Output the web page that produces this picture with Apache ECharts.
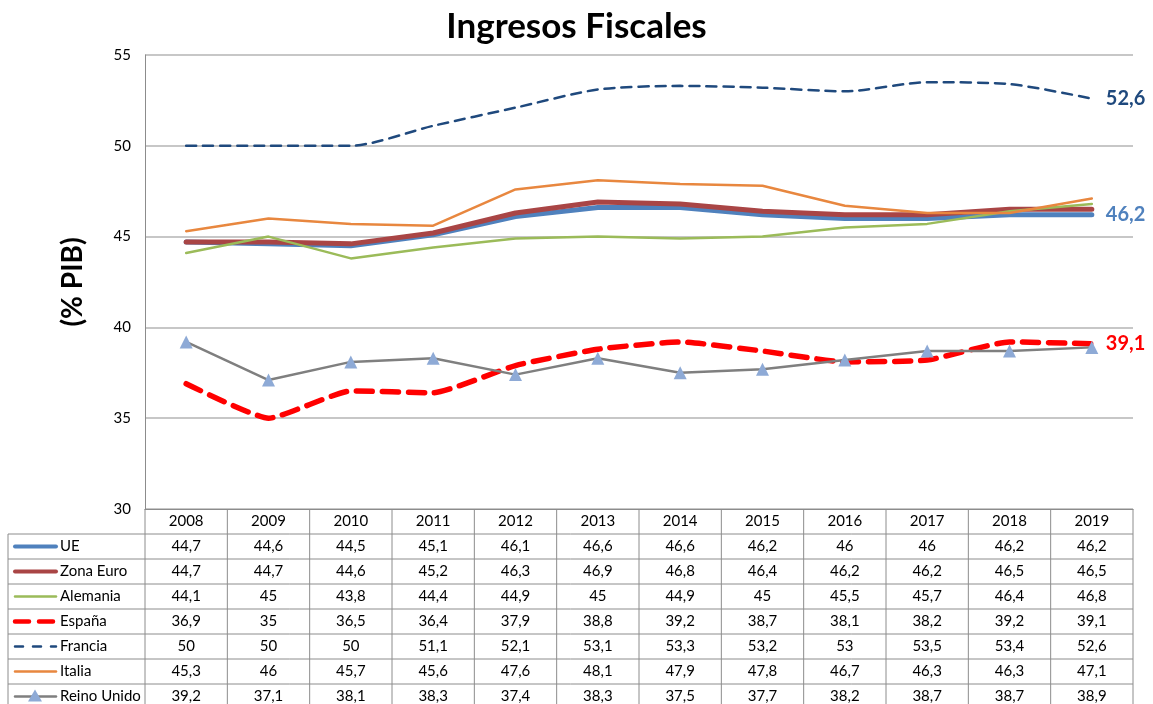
<!DOCTYPE html>
<html>
<head>
<meta charset="utf-8">
<title>Ingresos Fiscales</title>
<script src="https://cdn.jsdelivr.net/npm/echarts@6/dist/echarts.min.js"></script>
<style>
  html, body { margin: 0; padding: 0; background: #fff; }
  #chart { width: 1153px; height: 704px; }
</style>
</head>
<body>
<div id="chart"></div>
<script>
// datos (% PIB)
var years = ['2008', '2009', '2010', '2011', '2012', '2013', '2014', '2015', '2016', '2017', '2018', '2019'];
var ue = [44.7, 44.6, 44.5, 45.1, 46.1, 46.6, 46.6, 46.2, 46, 46, 46.2, 46.2];
var zonaEuro = [44.7, 44.7, 44.6, 45.2, 46.3, 46.9, 46.8, 46.4, 46.2, 46.2, 46.5, 46.5];
var alemania = [44.1, 45, 43.8, 44.4, 44.9, 45, 44.9, 45, 45.5, 45.7, 46.4, 46.8];
var espana = [36.9, 35, 36.5, 36.4, 37.9, 38.8, 39.2, 38.7, 38.1, 38.2, 39.2, 39.1];
var francia = [50, 50, 50, 51.1, 52.1, 53.1, 53.3, 53.2, 53, 53.5, 53.4, 52.6];
var italia = [45.3, 46, 45.7, 45.6, 47.6, 48.1, 47.9, 47.8, 46.7, 46.3, 46.3, 47.1];
var reinoUnido = [39.2, 37.1, 38.1, 38.3, 37.4, 38.3, 37.5, 37.7, 38.2, 38.7, 38.7, 38.9];
var yTicks = [30, 35, 40, 45, 50, 55];

var FONT = 'Lato, "Open Sans", sans-serif';
var gridL = 145, gridR = 1133, gridT = 55, gridB = 509;
var rowH = 25, tableL = 8;
var lineGrey = '#8c8c8c';

function coma(v) { return String(v).replace('.', ','); }

// filas de la tabla + estilo de cada serie
var rows = [
  { name: 'UE', data: ue, color: '#4f81bd', width: 5, type: 'solid' },
  { name: 'Zona Euro', data: zonaEuro, color: '#a94545', width: 5, type: 'solid' },
  { name: 'Alemania', data: alemania, color: '#9bbb59', width: 2.5, type: 'solid' },
  { name: 'España', data: espana, color: '#ff0000', width: 5.5, type: [16, 10], smooth: 0.15 },
  { name: 'Francia', data: francia, color: '#1f497d', width: 2.5, type: [10, 7], smooth: 0.25 },
  { name: 'Italia', data: italia, color: '#e8873f', width: 2.5, type: 'solid' },
  { name: 'Reino Unido', data: reinoUnido, color: '#7f7f7f', width: 2.5, type: 'solid', marker: true }
];

var endLabels = { 'UE': '#4f81bd', 'España': '#ff0000', 'Francia': '#1f497d' };

var chart = echarts.init(document.getElementById('chart'));

var series = rows.map(function (r) {
  var s = {
    name: r.name,
    type: 'line',
    data: r.data,
    smooth: r.smooth || false,
    symbol: r.marker ? 'triangle' : 'none',
    symbolSize: 13,
    showSymbol: !!r.marker,
    itemStyle: { color: r.marker ? '#8eaad6' : r.color },
    lineStyle: { color: r.color, width: r.width, type: r.type, cap: 'round' },
    emphasis: { disabled: true },
    animation: false
  };
  if (endLabels[r.name]) {
    s.endLabel = {
      show: true,
      distance: 14,
      formatter: function (p) { return coma(p.value); },
      color: endLabels[r.name],
      fontFamily: FONT,
      fontWeight: 'bold',
      fontSize: 20
    };
  }
  return s;
});

chart.setOption({
  animation: false,
  title: {
    text: 'Ingresos Fiscales',
    left: 'center',
    top: 4,
    textStyle: { fontFamily: FONT, fontWeight: 'bold', fontSize: 35, color: '#000' }
  },
  grid: { left: gridL, right: 1153 - gridR, top: gridT, bottom: 704 - gridB },
  xAxis: {
    type: 'category',
    data: years,
    boundaryGap: true,
    axisLine: { lineStyle: { color: lineGrey, width: 1 } },
    axisTick: { show: false },
    axisLabel: { color: '#000', fontFamily: FONT, fontSize: 15, margin: 5 }
  },
  yAxis: {
    type: 'value',
    min: yTicks[0],
    max: yTicks[yTicks.length - 1],
    interval: 5,
    name: '(% PIB)',
    nameLocation: 'middle',
    nameRotate: 90,
    nameGap: 58,
    nameTextStyle: { fontFamily: FONT, fontWeight: 'bold', fontSize: 28, color: '#000' },
    axisLine: { show: true, lineStyle: { color: lineGrey } },
    axisTick: { show: false },
    axisLabel: { color: '#000', fontFamily: FONT, fontSize: 15, margin: 14 },
    splitLine: { lineStyle: { color: '#b4b4b4', width: 1.5 } }
  },
  series: series
});

// tabla de datos debajo del gráfico
function buildTable() {
  var g = [];
  var centers = years.map(function (y, i) { return chart.convertToPixel({ xAxisIndex: 0 }, i); });
  var half = (centers[1] - centers[0]) / 2;
  var bottom = gridB + rowH * (rows.length + 1);

  // lineas horizontales
  for (var k = 1; k <= rows.length; k++) {
    var y = gridB + rowH * k;
    g.push({ type: 'line', shape: { x1: tableL, y1: y, x2: gridR, y2: y }, style: { stroke: lineGrey, lineWidth: 1 } });
  }
  // lineas verticales
  centers.forEach(function (c) {
    g.push({ type: 'line', shape: { x1: c + half, y1: gridB, x2: c + half, y2: bottom }, style: { stroke: lineGrey, lineWidth: 1 } });
  });
  g.push({ type: 'line', shape: { x1: gridL, y1: gridB, x2: gridL, y2: bottom }, style: { stroke: lineGrey, lineWidth: 1 } });
  g.push({ type: 'line', shape: { x1: tableL, y1: gridB + rowH, x2: tableL, y2: bottom }, style: { stroke: lineGrey, lineWidth: 1 } });

  rows.forEach(function (r, ri) {
    var cy = gridB + rowH * (ri + 1) + rowH / 2;
    // clave de la leyenda
    var dash = r.type === 'solid' ? null : (r.name === 'España' ? [14, 10] : [8, 10]);
    g.push({
      type: 'line',
      shape: { x1: 15, y1: cy, x2: 56, y2: cy },
      style: { stroke: r.color, lineWidth: r.width - (r.width > 4 ? 1 : 0), lineDash: dash, lineCap: 'round' }
    });
    if (r.marker) {
      g.push({ type: 'polygon', shape: { points: [[35, cy - 7], [28, cy + 5], [42, cy + 5]] }, style: { fill: '#8eaad6' } });
    }
    g.push({
      type: 'text', x: 60, y: cy,
      style: { text: r.name, fontFamily: FONT, fontSize: 15, fill: '#000', verticalAlign: 'middle' }
    });
    r.data.forEach(function (v, i) {
      g.push({
        type: 'text', x: centers[i], y: cy,
        style: { text: coma(v), fontFamily: FONT, fontSize: 15, fill: '#000', align: 'center', verticalAlign: 'middle' }
      });
    });
  });
  chart.setOption({ graphic: g });
}
buildTable();
</script>
</body>
</html>
